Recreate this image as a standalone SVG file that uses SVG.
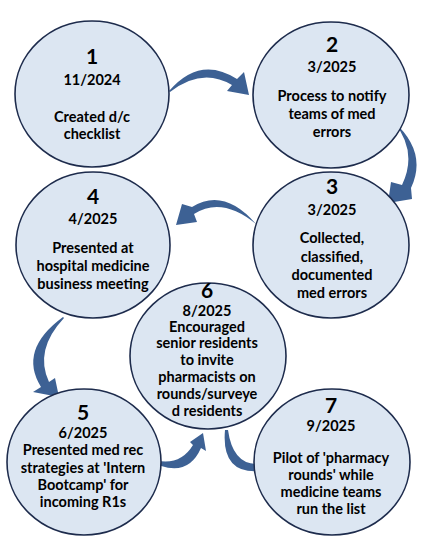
<svg xmlns="http://www.w3.org/2000/svg" width="424" height="548" viewBox="0 0 424 548">
<style>
.c{fill:#dce6f2;stroke:#1d2b4c;stroke-width:1.6}
.a{fill:#3d6194}
text{font-family:Lato,"Liberation Sans",sans-serif;font-weight:bold;fill:#000;text-anchor:middle;font-size:14.5px}
.n{font-size:21px}
</style>
<rect width="424" height="548" fill="#fff"/>
<g id="connectors">
<path class="a" d="M169,91 Q200,55 237,79 L244,72 L249,95 L227,91 L232,85 Q202,67 170,92 Z"/>
<path class="a" d="M393,121 Q428,152 411,188 L412,199 L388,203 L391,182 L402,185 Q418,152 394,122 Z"/>
<path class="a" d="M256,224 Q224,187 192,207 L182,204 L176,225 L197,222 L194,214 Q222,196 256,224 Z"/>
<path class="a" d="M63,317 Q18,350 41,387 L33,392 L59,397 L55,378 L49,382 Q34,350 64,318 Z"/>
<path class="a" d="M145,457 Q178,470 193,445 L190,442 L203,433 L206,451 L201,448 Q186,482 146,459 Z"/>
<path class="a" d="M225,430 Q221,475 261,471 L262,478 L272,466 L260,458 L260,464 Q233,466 228,430 Z"/>
</g>
<g id="node1">
<ellipse class="c" cx="92" cy="94" rx="77" ry="73"/>
<text class="n" x="92" y="64">1</text>
<text x="92" y="85">11/2024</text>
<text x="92" y="122">Created d/c</text>
<text x="92" y="139">checklist</text>
</g>
<g id="node2">
<ellipse class="c" cx="331" cy="95" rx="78" ry="73"/>
<text class="n" x="332" y="52">2</text>
<text x="332" y="72">3/2025</text>
<text x="332" y="101">Process to notify</text>
<text x="332" y="119">teams of med</text>
<text x="332" y="137">errors</text>
</g>
<g id="node3">
<ellipse class="c" cx="331" cy="245" rx="78" ry="73"/>
<text class="n" x="332" y="194">3</text>
<text x="332" y="215">3/2025</text>
<text x="332" y="243">Collected,</text>
<text x="332" y="262">classified,</text>
<text x="332" y="280">documented</text>
<text x="332" y="298">med errors</text>
</g>
<g id="node4">
<ellipse class="c" cx="93" cy="245" rx="77" ry="73"/>
<text class="n" x="93" y="204">4</text>
<text x="93" y="224">4/2025</text>
<text x="93" y="253">Presented at</text>
<text x="93" y="271">hospital medicine</text>
<text x="93" y="289">business meeting</text>
</g>
<g id="node6">
<ellipse class="c" cx="208" cy="356" rx="78" ry="73"/>
<text class="n" x="207" y="298">6</text>
<text x="207" y="316">8/2025</text>
<text x="207" y="332">Encouraged</text>
<text x="207" y="348">senior residents</text>
<text x="207" y="365">to invite</text>
<text x="207" y="382">pharmacists on</text>
<text x="207" y="399">rounds/surveye</text>
<text x="207" y="416">d residents</text>
</g>
<g id="node5">
<ellipse class="c" cx="84" cy="462" rx="77" ry="73"/>
<text class="n" x="83" y="420">5</text>
<text x="83" y="438">6/2025</text>
<text x="83" y="455">Presented med rec</text>
<text x="83" y="473">strategies at 'Intern</text>
<text x="83" y="490">Bootcamp' for</text>
<text x="83" y="507">incoming R1s</text>
</g>
<g id="node7">
<ellipse class="c" cx="332" cy="462" rx="78" ry="73"/>
<text class="n" x="331" y="413">7</text>
<text x="331" y="431">9/2025</text>
<text x="331" y="463">Pilot of 'pharmacy</text>
<text x="331" y="480">rounds' while</text>
<text x="331" y="497">medicine teams</text>
<text x="331" y="514">run the list</text>
</g>
</svg>
